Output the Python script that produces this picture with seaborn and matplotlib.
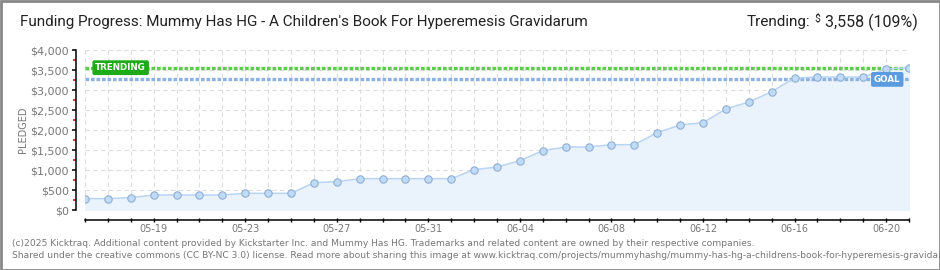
import matplotlib
matplotlib.use("Agg")
import matplotlib.pyplot as plt
import seaborn as sns
import pandas as pd
import numpy as np
from matplotlib.patches import Rectangle
from matplotlib.ticker import MultipleLocator, FuncFormatter

# ---- data ----
dates = pd.date_range("2025-05-16", "2025-06-21", freq="D")
pledged = [285, 285, 310, 375, 375, 375, 375, 417, 417, 417,
           683, 708, 783, 783, 783, 783, 783, 1008, 1075, 1233,
           1483, 1575, 1575, 1633, 1633, 1933, 2125, 2183, 2525, 2700,
           2958, 3300, 3325, 3325, 3325, 3525, 3558]
goal = 3265
trending = 3558
label_dates = ["05-19", "05-23", "05-27", "05-31", "06-04", "06-08", "06-12", "06-16", "06-20"]
title = "Funding Progress: Mummy Has HG - A Children's Book For Hyperemesis Gravidarum"
footer1 = ("(c)2025 Kicktraq. Additional content provided by Kickstarter Inc. and Mummy Has HG. "
           "Trademarks and related content are owned by their respective companies.")
footer2 = ("Shared under the creative commons (CC BY-NC 3.0) license. Read more about sharing this image at "
           "www.kicktraq.com/projects/mummyhashg/mummy-has-hg-a-childrens-book-for-hyperemesis-gravidarum")

df = pd.DataFrame({"date": dates, "pledged": pledged})

sns.set_theme(style="white")
plt.rcParams["font.family"] = ["DejaVu Sans"]

W, H = 940, 270
PX = 72 / 100  # points per pixel
fig = plt.figure(figsize=(W / 100, H / 100), dpi=100)
fig.patch.set_facecolor("white")

x0, x1 = 85, 909
y0, y1 = 210, 50
ax = fig.add_axes([x0 / W, 1 - y0 / H, (x1 - x0) / W, (y0 - y1) / H])
ax.set_facecolor("white")

ax.fill_between(df["date"], df["pledged"], 0, color="#eaf2fc", zorder=1)
sns.lineplot(data=df, x="date", y="pledged", ax=ax, color="#b9d5f3", linewidth=1.1,
             marker="o", markersize=5.3, markerfacecolor="#c0dbf7",
             markeredgecolor="#8faed3", markeredgewidth=0.8, zorder=5)

ax.set_xlim(dates[0], dates[-1])
ax.set_ylim(0, 4000)

# grid
ax.set_xticks(dates)
ax.yaxis.set_major_locator(MultipleLocator(500))
ax.yaxis.set_minor_locator(MultipleLocator(250))
ax.grid(True, which="major", color="#dddddd", linestyle=(0, (4, 3)), linewidth=0.8, zorder=0)
ax.set_axisbelow(True)

# reference lines
ax.axhline(trending, color="#5dcc4c", linewidth=2.4, linestyle=(0, (1.1, 0.55)), zorder=3)
ax.axhline(goal, color="#8db1e2", linewidth=2.4, linestyle=(0, (1.1, 0.55)), zorder=3)
ax.text(dates[0] + pd.Timedelta(days=0.45), trending, "TRENDING", color="white", fontsize=6.3,
        fontweight="bold", va="center", ha="left", zorder=6,
        bbox=dict(boxstyle="round,pad=0.25,rounding_size=0.15", fc="#1faa18", ec="#1faa18"))
ax.text(dates[0] + pd.Timedelta(days=35.05), goal, "GOAL", color="white", fontsize=6.3,
        fontweight="bold", va="center", ha="center", zorder=6,
        bbox=dict(boxstyle="round,pad=0.25,rounding_size=0.15", fc="#5b9be0", ec="#5b9be0"))

# spines
for s in ["top", "right"]:
    ax.spines[s].set_visible(False)
ax.spines["left"].set_position(("outward", 9 * PX))
ax.spines["bottom"].set_position(("outward", 10 * PX))
for s in ["left", "bottom"]:
    ax.spines[s].set_color("black")
    ax.spines[s].set_linewidth(1.1)

ax.yaxis.set_major_formatter(FuncFormatter(lambda v, p: f"${int(v):,}"))
ax.tick_params(axis="y", which="major", direction="out", length=4 * PX, width=1.1, color="black",
               labelsize=8, labelcolor="#777777", pad=3 * PX, left=True)
ax.tick_params(axis="y", which="minor", direction="out", length=3.5 * PX, width=1.1, color="#dd0000", left=True)
ax.set_xticklabels([d.strftime("%m-%d") if d.strftime("%m-%d") in label_dates else "" for d in dates])
ax.tick_params(axis="x", which="major", direction="inout", length=5 * PX, width=1.0, color="black",
               labelsize=7, labelcolor="#777777", pad=1, bottom=True)

ax.set_xlabel("")
ax.set_ylabel("PLEDGED", fontsize=7, color="#777777", labelpad=2)

# titles
fam = ["Roboto", "DejaVu Sans"]
fig.text(20 / W, 1 - 22 / H, title, fontsize=11, color="#222222", va="center", ha="left", family=fam)
fig.text(918 / W, 1 - 22 / H, "3,558 (109%)", fontsize=11.5, color="#222222", va="center", ha="right", family=fam)
fig.text(820 / W, 1 - 19 / H, "$", fontsize=7.5, color="#222222", va="center", ha="right", family=fam)
fig.text(810 / W, 1 - 22 / H, "Trending:", fontsize=11, color="#222222", va="center", ha="right", family=fam)

# footer
fig.text(12 / W, 1 - 243 / H, footer1, fontsize=6.6, color="#777777", va="center", ha="left")
fig.text(12 / W, 1 - 256 / H, footer2, fontsize=6.6, color="#777777", va="center", ha="left")

# frame
fig.add_artist(Rectangle((0.5 / W, 0.5 / H), 1 - 1 / W, 1 - 1 / H, transform=fig.transFigure,
                         fill=False, edgecolor="#888888", linewidth=2))

fig.savefig("out.png", dpi=100)
